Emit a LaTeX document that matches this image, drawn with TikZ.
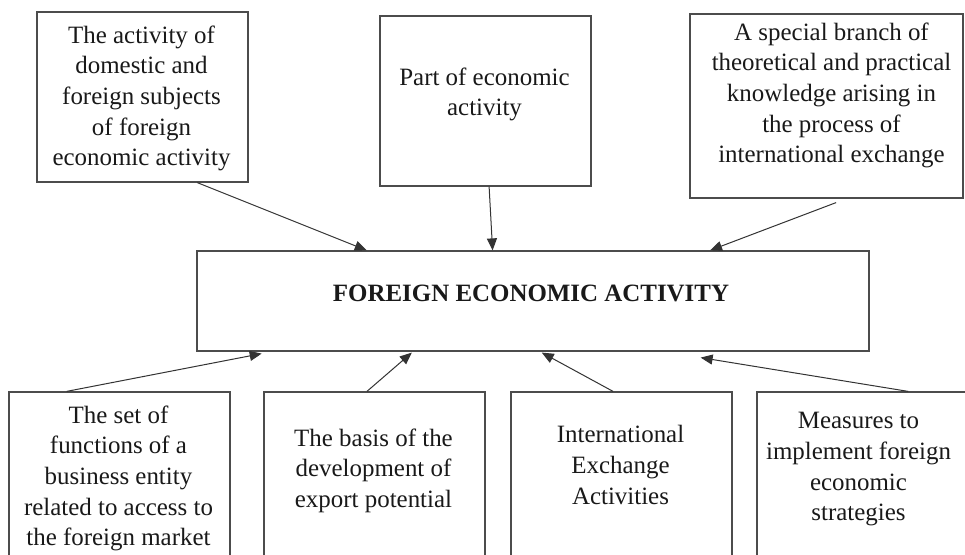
\documentclass[tikz,border=0pt]{standalone}
\usepackage{fontspec}
\setmainfont{Liberation Serif}
\usetikzlibrary{calc,arrows.meta,positioning}

\begin{document}
\begin{tikzpicture}[x=0.75pt,y=-0.75pt,
  box/.style={draw=black!70, line width=0.9pt, rectangle, inner sep=0pt},
  txt/.style={anchor=north, align=center, inner sep=0pt, text=black!90,
    font=\fontsize{18.7}{23}\selectfont},
  arr/.style={-{Triangle[length=9pt,width=7.5pt]}, line width=0.75pt, black!80}]
\useasboundingbox (0,0) rectangle (965,555);
\clip (0,0) rectangle (965,555);
\fill[white] (0,0) rectangle (965,555);

\node[box, minimum width=158.25pt, minimum height=127.5pt] (subj) at (142.5,97) {};
\node[box, minimum width=158.25pt, minimum height=127.5pt] (part) at (485.5,101) {};
\node[box, minimum width=204.75pt, minimum height=138pt] (branch) at (826.5,106) {};
\node[box, minimum width=504pt, minimum height=75pt] (fea) at (533,301) {};
\node[box, minimum width=165.75pt, minimum height=133.5pt] (funcs) at (119.5,481) {};
\node[box, minimum width=165.75pt, minimum height=133.5pt] (basis) at (374.5,481) {};
\node[box, minimum width=165.75pt, minimum height=133.5pt] (exch) at (621.5,481) {};
\node[box, minimum width=167.25pt, minimum height=133.5pt] (meas) at (868.5,481) {};

\node[txt] (subjtxt) at ($(subj.north)+(-1,14)$) {The activity of\\domestic and\\foreign subjects\\of foreign\\economic activity};
\node[txt] (parttxt) at ($(part.north)+(-1,52)$) {Part of economic\\activity};
\node[txt] (branchtxt) at ($(branch.north)+(5,9)$) {A special branch of\\theoretical and practical\\knowledge arising in\\the process of\\international exchange};
\node[txt, font=\fontsize{18.7}{23}\selectfont\bfseries] (featxt) at ($(fea.north)+(-2,34)$) {FOREIGN ECONOMIC ACTIVITY};
\node[txt] (funcstxt) at ($(funcs.north)+(-1,14)$) {The set of\\functions of a\\business entity\\related to access to\\the foreign market};
\node[txt] (basistxt) at ($(basis.north)+(-1,37)$) {The basis of the\\development of\\export potential};
\node[txt] (exchtxt) at ($(exch.north)+(-1,34)$) {International\\Exchange\\Activities};
\node[txt] (meastxt) at ($(meas.north)+(-10,21)$) {Measures to\\implement foreign\\economic\\strategies};

\draw[arr] ($(subj.south west)!.758!(subj.south east)$) -- ($(fea.north west)!.253!(fea.north east)$);
\draw[arr] ($(part.south west)!.517!(part.south east)$) -- ($(fea.north west)!.440!(fea.north east)$);
\draw[arr] ($(branch.south west)!.535!(branch.south east)+(0,4)$) -- ($(fea.north west)!.763!(fea.north east)$);
\draw[arr] ($(funcs.north west)!.262!(funcs.north east)$) -- ($(fea.south west)!.097!(fea.south east)+(0,2)$);
\draw[arr] ($(basis.north west)!.466!(basis.north east)$) -- ($(fea.south west)!.320!(fea.south east)+(0,1)$);
\draw[arr] ($(exch.north west)!.462!(exch.north east)$) -- ($(fea.south west)!.513!(fea.south east)+(0,1)$);
\draw[arr] ($(meas.north west)!.677!(meas.north east)$) -- ($(fea.south west)!.749!(fea.south east)+(0,6)$);
\end{tikzpicture}
\end{document}
